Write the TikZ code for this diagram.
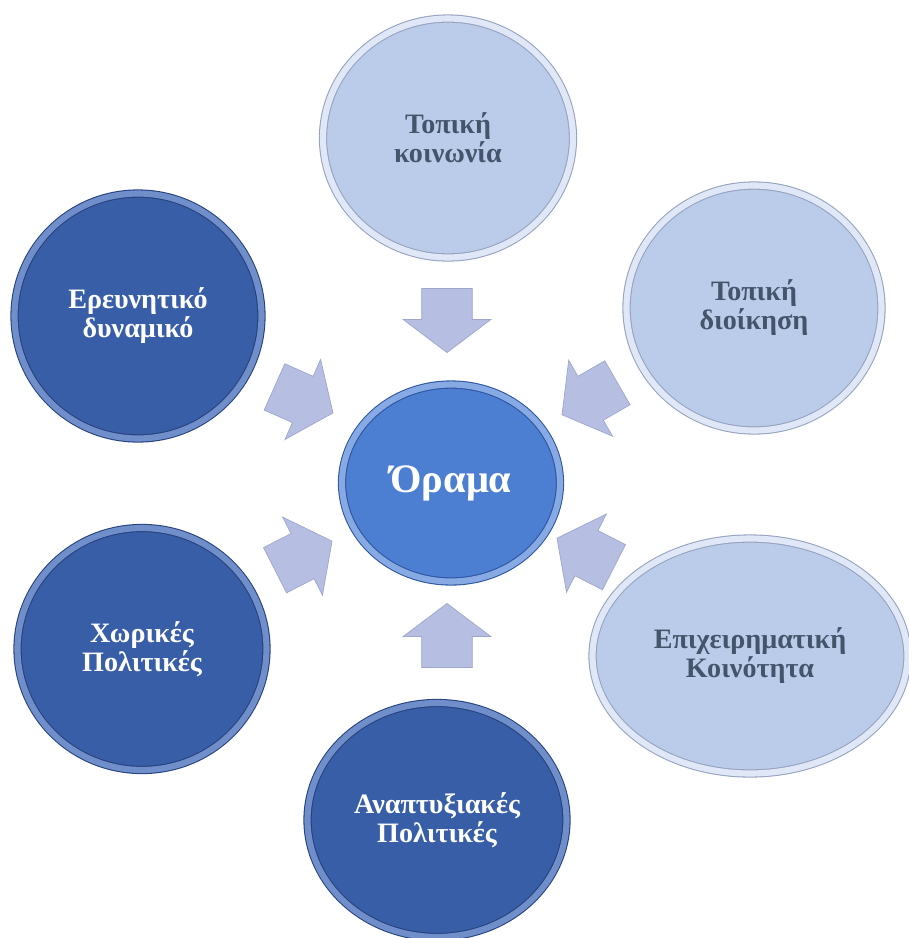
\documentclass[tikz,border=0pt]{standalone}
\usepackage{fontspec}
\setmainfont{Liberation Serif}
\usetikzlibrary{shapes.geometric, shapes.arrows}

\definecolor{darkblue}{RGB}{57,94,168}
\definecolor{darkrim}{RGB}{112,142,202}
\definecolor{darkedge}{RGB}{38,66,125}
\definecolor{midblue}{RGB}{76,126,210}
\definecolor{midrim}{RGB}{135,170,228}
\definecolor{midedge}{RGB}{45,85,160}
\definecolor{paleblue}{RGB}{187,204,235}
\definecolor{palerim}{RGB}{224,232,247}
\definecolor{paleedge}{RGB}{150,162,190}
\definecolor{slate}{RGB}{68,84,106}
\definecolor{arrowfill}{RGB}{182,190,226}
\definecolor{arrowedge}{RGB}{158,166,206}

\begin{document}
\begin{tikzpicture}[x=0.02cm, y=-0.02cm]
            % Define styles
            \tikzstyle{disc} = [ellipse, inner sep=0pt, align=center, font=\fontsize{16}{16.5}\selectfont\bfseries, line width=0.6pt, double distance=3.5pt]
            \tikzstyle{darkdisc} = [disc, fill=darkblue, draw=darkedge, double=darkrim, text=white]
            \tikzstyle{lightdisc} = [disc, fill=paleblue, draw=paleedge, double=palerim, text=slate]
            \tikzstyle{flow} = [single arrow, draw=arrowedge, fill=arrowfill, thin, inner xsep=0pt, inner ysep=0.5cm, minimum height=1.28cm, single arrow head extend=0.37cm, single arrow tip angle=106]

            \useasboundingbox (0,0) rectangle (909,938);

            % Centre disc
            \node[disc, fill=midblue, draw=midedge, double=midrim, text=white, minimum width=4.36cm, minimum height=3.94cm, font=\fontsize{23}{26}\selectfont\bfseries] (Orama) at (451,483) {Όραμα};

            % Outer discs
            \node[lightdisc, minimum width=5.0cm, minimum height=4.78cm] (Koinonia) at (448,138) {Τοπική\\κοινωνία};
            \node[lightdisc, minimum width=5.1cm, minimum height=4.9cm] (Dioikisi) at (754,308) {Τοπική\\διοίκηση};
            \node[lightdisc, minimum width=6.3cm, minimum height=4.7cm] (Epix) at (750,656) {Επιχειρηματική\\Κοινότητα};
            \node[darkdisc, minimum width=5.18cm, minimum height=4.68cm] (Anapt) at (437,820) {Αναπτυξιακές\\Πολιτικές};
            \node[darkdisc, minimum width=4.98cm, minimum height=4.84cm] (Xwr) at (142,649) {Χωρικές\\Πολιτικές};
            \node[darkdisc, minimum width=4.94cm, minimum height=4.9cm] (Erevna) at (138,316) {Ερευνητικό\\δυναμικό};

            % Block arrows towards the centre
            \node[flow, rotate=-90] (A1) at (447,311) {};
            \node[flow, rotate=210] (A2) at (598,394) {};
            \node[flow, rotate=153] (A3) at (594,557) {};
            \node[flow, rotate=90] (A4) at (447,645) {};
            \node[flow, rotate=27] (A5) at (295,560) {};
            \node[flow, rotate=-24] (A6) at (295,396) {};
\end{tikzpicture}
\end{document}
